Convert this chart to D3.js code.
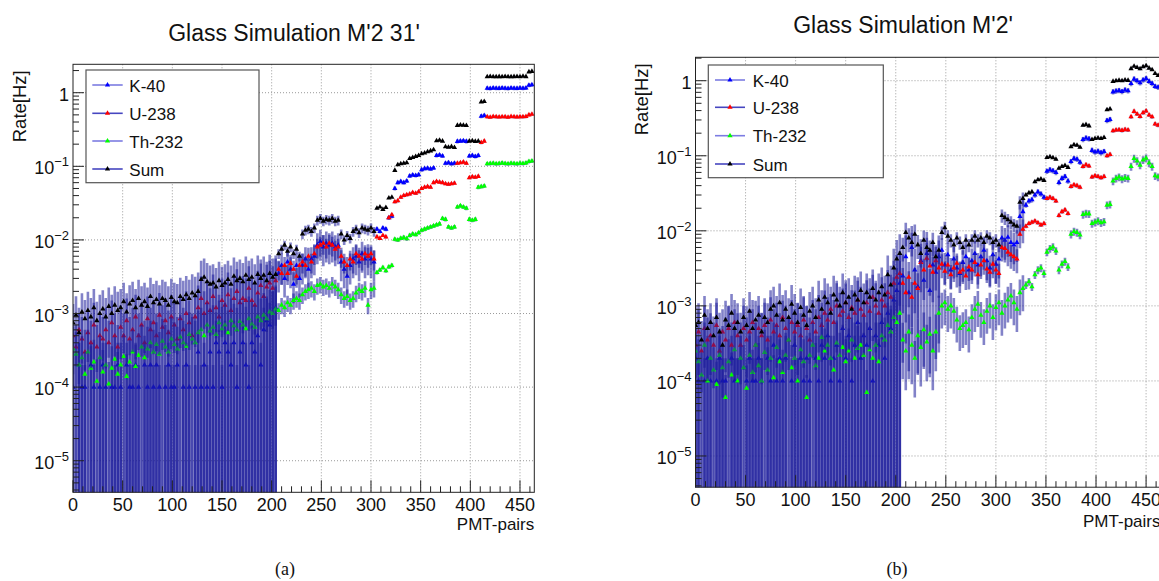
<!DOCTYPE html>
<html>
<head>
<meta charset="utf-8">
<script src="https://cdn.jsdelivr.net/npm/d3@7"></script>
<style>
  body { margin: 0; background: #fff; }
  svg { display: block; font-family: "Liberation Sans", Arial, sans-serif; }
</style>
</head>
<body>
<svg id="chart" width="1159" height="581"></svg>
<script>
// PMT pair index of every plotted point (every 3rd pair)
const pmtPairs = d3.range(0, 463, 3);
const seriesNames = ["K-40", "U-238", "Th-232", "Sum"];
const xTicks = [0, 50, 100, 150, 200, 250, 300, 350, 400, 450];

// ---- panel (a): Glass Simulation M'2 31'  (rates in mHz) ----
const k40A = [
  0.1, 0, 0.2, 0.1, 0.1, 0, 0.2, 0.1, 0, 0.1,
  0.2, 0.1, 0, 0.1, 0.1, 0.2, 0.1, 0, 0.2, 0.1,
  0.1, 0.2, 0.1, 0, 0.2, 0.1, 0.2, 0.1, 0.2, 0.1,
  0, 0.1, 0.2, 0.1, 0.1, 0.2, 0, 0.1, 0.2, 0.1,
  0, 0.1, 0.3, 0.1, 0.2, 0.1, 0.3, 0.1, 0.4, 0.3,
  0.1, 0.4, 0.3, 0.2, 0.4, 0.1, 0.3, 0.4, 0.2, 0.1,
  0.4, 0.3, 0.5, 0.2, 0.6, 0.8, 0.7, 1.0, 1.2,
  3.5, 4.5, 3.0, 5.0, 4.0, 2.5, 4.5, 3.0, 4.5, 5.5,
  4.0, 5.5, 6.0, 8.5, 9.5, 8.0, 9.0, 8.5, 9.0, 8.0,
  8.5, 5.0, 4.0, 3.2, 4.5, 5.5, 6.0, 5.0, 6.5, 5.5,
  6.0, 5.5, 5.0, 14, 13, 14.5, 14, 20, 21, 50,
  60, 62, 60, 63, 74, 76, 75, 77, 90, 93,
  94, 92, 95, 140, 142, 138, 110, 112, 108, 110,
  218, 220, 222, 218, 138, 140, 136, 140, 480, 490,
  1150, 1140, 1155, 1150, 1145, 1160, 1150, 1140, 1155, 1150,
  1145, 1160, 1150, 1155, 1260, 1280
];
const u238A = [
  0.5, 0.35, 0.6, 0.45, 0.3, 0.55, 0.4, 0.7, 0.35, 0.5,
  0.45, 0.6, 0.4, 0.75, 0.5, 0.35, 0.65, 0.5, 0.8, 0.45,
  0.6, 0.9, 0.5, 0.7, 0.4, 0.85, 0.6, 0.75, 0.5, 0.95,
  0.65, 0.8, 0.55, 0.9, 0.7, 0.45, 0.85, 0.6, 1.0, 0.75,
  0.5, 0.9, 1.2, 1.6, 1.0, 1.4, 1.1, 1.7, 1.2, 0.9,
  1.5, 1.3, 1.8, 1.1, 1.6, 2.0, 1.4, 1.6, 1.5, 2.2,
  1.5, 1.3, 1.9, 2.4, 1.7, 2.3, 2.6, 2.2, 2.8,
  4.0, 3.5, 4.5, 3.5, 4.8, 4.0, 3.2, 4.5, 5.0, 4.5,
  6.0, 5.0, 6.5, 8.0, 8.5, 9.0, 8.0, 9.0, 8.5, 7.5,
  8.0, 6.0, 5.0, 4.5, 5.5, 5.0, 6.5, 6.0, 5.5, 6.5,
  6.0, 6.5, 5.5, 11, 10.5, 11.5, 11, 20, 22, 33,
  34, 38, 40, 41, 42, 44, 43, 45, 50, 52,
  53, 52, 60, 62, 61, 60, 58, 57, 58, 59,
  110, 112, 114, 110, 70, 72, 71, 73, 210, 220,
  470, 465, 475, 470, 468, 472, 470, 465, 475, 470,
  468, 472, 470, 475, 500, 510
];
const th232A = [
  0.33, 0.28, 0.2, 0.25, 0.15, 0.3, 0.18, 0.22, 0.12, 0.25,
  0.16, 0.2, 0.11, 0.18, 0.24, 0.15, 0.2, 0.26, 0.14, 0.22,
  0.3, 0.19, 0.27, 0.35, 0.25, 0.33, 0.4, 0.3, 0.38, 0.28,
  0.42, 0.35, 0.3, 0.45, 0.38, 0.33, 0.48, 0.4, 0.36, 0.52,
  0.45, 0.4, 0.55, 0.6, 0.5, 0.7, 0.58, 0.65, 0.52, 0.75,
  0.62, 0.7, 0.55, 0.8, 0.68, 0.6, 0.78, 0.7, 0.62, 0.85,
  0.72, 0.65, 0.9, 0.8, 0.95, 0.85, 1.05, 1.0, 1.15,
  1.1, 1.3, 1.2, 1.4, 1.3, 1.5, 1.6, 1.5, 1.8, 2.0,
  2.1, 2.2, 2.0, 2.4, 2.5, 2.3, 2.4, 2.2, 2.5, 2.3,
  2.1, 1.8, 1.6, 1.7, 1.5, 1.6, 1.9, 2.1, 2.0, 2.2,
  1.3, 2.1, 2.2, 3.6, 3.9, 4.2, 3.8, 4.3, 4.5, 10.2,
  10, 10.5, 10.8, 10.4, 11.5, 12, 11.8, 12.5, 13.5, 14,
  14.5, 15, 15.5, 16, 16.5, 19.5, 19, 15, 14.5, 15,
  28, 29, 28, 27, 19, 18.5, 19, 52, 53, 54,
  108, 109, 110, 108, 109, 111, 109, 108, 110, 109,
  108, 110, 109, 111, 116, 118
];
const sumA = [
  0.75, 0.95, 0.55, 1.05, 0.85, 1.1, 0.9, 1.2, 0.8, 1.0,
  1.15, 0.9, 1.25, 1.0, 1.3, 1.1, 1.2, 1.45, 1.05, 1.35,
  1.5, 1.2, 1.6, 1.3, 1.45, 1.25, 1.7, 1.4, 1.55, 1.35,
  1.6, 1.5, 1.3, 1.65, 1.45, 1.4, 1.7, 1.55, 1.8, 1.6,
  1.9, 1.75, 2.0, 2.9, 3.1, 2.7, 2.5, 2.6, 2.3, 2.8,
  2.4, 2.6, 2.9, 2.5, 3.2, 2.8, 3.0, 2.7, 3.3, 2.9,
  3.1, 2.6, 3.4, 3.0, 3.3, 2.8, 3.5, 3.1, 3.4,
  6.5, 7.5, 8.5, 7.0, 8.0, 6.5, 7.5, 6.0, 12, 13.5,
  14, 13, 14.5, 18.5, 19.5, 18, 19, 18.5, 19.5, 18,
  18.5, 12, 10, 11.5, 10.5, 13, 14, 12.5, 14.5, 14,
  13.5, 14.5, 13, 27, 28, 26, 27.5, 37, 38, 88,
  105, 108, 110, 112, 128, 132, 136, 140, 148, 152,
  158, 162, 168, 222, 226, 220, 184, 182, 185, 180,
  360, 365, 362, 358, 220, 222, 218, 220, 750, 760,
  1650, 1660, 1650, 1645, 1655, 1650, 1660, 1650, 1645, 1655,
  1660, 1650, 1670, 1655, 1920, 1950
];

// ---- panel (b): Glass Simulation M'2'  (rates in mHz) ----
const k40B = [
  0.2, 0.1, 0, 0.1, 0.2, 0.1, 0, 0.1, 0.2, 0.1,
  0.1, 0, 0.2, 0.1, 0.1, 0.2, 0, 0.1, 0.2, 0.1,
  0.1, 0.2, 0.1, 0, 0.2, 0.1, 0.3, 0.1, 0.2, 0.1,
  0.2, 0, 0.1, 0.3, 0.1, 0.2, 0.1, 0.2, 0.1, 0,
  0.2, 0.1, 0.3, 0.2, 0.4, 0.1, 0.2, 0.3, 0.1, 0.5,
  0.2, 0.4, 0.1, 0.3, 0.6, 0.2, 0.4, 0.3, 0.5, 0.1,
  0.4, 0.3, 0.6, 0.2, 0.8, 0.5, 1.2, 1.6, 2.0,
  2.5, 4.5, 1.5, 6.0, 3.0, 1.8, 4.0, 2.2, 5.0, 1.6,
  3.5, 2.8, 4.5, 5.5, 3.5, 4.8, 3.0, 4.2, 3.2, 2.7,
  3.8, 4.5, 3.0, 4.0, 5.0, 3.5, 4.5, 5.5, 4.0, 3.2,
  4.8, 3.6, 4.2, 8.0, 7.5, 8.2, 7.0, 6.5, 7.0, 15.5,
  18, 22, 25, 26, 30, 33, 31, 28, 62, 65,
  63, 60, 44, 50, 53, 46, 84, 92, 90, 82,
  165, 172, 168, 118, 112, 115, 110, 114, 295, 305,
  710, 730, 740, 720, 750, 735, 920, 1050, 1000, 940,
  1020, 1070, 980, 920, 840, 820
];
const u238B = [
  0.3, 0.45, 0.25, 0.5, 0.35, 0.4, 0.3, 0.55, 0.25, 0.45,
  0.35, 0.5, 0.3, 0.6, 0.4, 0.3, 0.5, 0.35, 0.45, 0.6,
  0.3, 0.5, 0.4, 0.55, 0.35, 0.65, 0.45, 0.55, 0.4, 0.7,
  0.5, 0.35, 0.6, 0.45, 0.55, 0.4, 0.65, 0.5, 0.35, 0.6,
  0.45, 0.7, 0.55, 0.8, 0.65, 0.9, 0.6, 1.0, 0.75, 0.85,
  1.1, 0.7, 0.95, 0.8, 1.2, 0.9, 0.75, 1.1, 0.85, 1.3,
  1.0, 0.8, 1.2, 1.0, 1.5, 1.3, 2.0, 2.4, 2.7,
  2.0, 1.5, 2.4, 1.3, 2.0, 1.7, 3.8, 3.0, 4.3, 3.4,
  2.8, 4.0, 3.2, 3.6, 2.9, 3.5, 2.6, 3.2, 3.7, 2.8,
  3.0, 2.5, 3.3, 3.0, 3.8, 2.6, 3.5, 4.0, 3.1, 2.8,
  3.6, 3.0, 2.7, 6.0, 5.8, 5.2, 4.8, 4.5, 4.2, 9.0,
  10.5, 11.5, 12.5, 13, 13.5, 12.8, 12, 12.5, 27, 28,
  27, 25, 16, 18, 19, 17, 39, 41, 40, 38,
  72, 76, 73, 52, 54, 53, 51, 53, 100, 104,
  215, 220, 222, 218, 224, 220, 330, 390, 360, 335,
  375, 395, 350, 330, 265, 255
];
const th232B = [
  0.25, 0.18, 0.12, 0.3, 0.1, 0.2, 0.14, 0.09, 0.22, 0.15,
  0.06, 0.18, 0.12, 0.26, 0.1, 0.2, 0.15, 0.08, 0.22, 0.13,
  0.3, 0.16, 0.1, 0.24, 0.14, 0.2, 0.11, 0.28, 0.18, 0.13,
  0.22, 0.35, 0.15, 0.2, 0.1, 0.26, 0.18, 0.06, 0.22, 0.3,
  0.16, 0.2, 0.38, 0.25, 0.3, 0.2, 0.14, 0.32, 0.22, 0.28,
  0.18, 0.25, 0.35, 0.2, 0.27, 0.3, 0.22, 0.07, 0.26, 0.2,
  0.3, 0.18, 0.4, 0.35, 0.55, 0.45, 0.7, 0.6, 0.8,
  0.35, 0.25, 0.45, 0.3, 0.2, 0.4, 0.28, 0.48, 0.33, 0.42,
  0.25, 0.45, 0.8, 1.0, 1.1, 0.9, 1.0, 0.85, 0.65, 0.5,
  0.55, 0.6, 0.48, 0.7, 0.9, 1.05, 0.75, 0.6, 0.85, 1.0,
  0.7, 0.95, 1.1, 0.8, 1.0, 1.2, 1.35, 1.1, 0.9, 1.5,
  1.7, 1.9, 2.1, 1.8, 2.6, 3.0, 3.2, 2.7, 5.2, 5.8,
  6.1, 5.4, 3.0, 3.6, 3.9, 3.3, 9.0, 9.8, 9.5, 8.8,
  16.5, 17, 16.8, 12.5, 13, 13.5, 12.8, 13.2, 22, 22.5,
  46, 50, 52, 49, 51, 50, 72, 92, 85, 75,
  88, 93, 80, 72, 54, 52
];
const sumB = [
  0.55, 0.6, 0.35, 0.75, 0.5, 0.6, 0.4, 0.7, 0.45, 0.3,
  0.65, 0.55, 0.8, 0.5, 0.6, 0.45, 0.7, 0.55, 0.85, 0.5,
  0.65, 0.75, 0.45, 0.7, 0.6, 0.9, 1.0, 0.75, 1.1, 0.65,
  0.9, 0.7, 1.05, 0.8, 0.6, 0.95, 0.75, 0.55, 0.85, 1.0,
  0.7, 1.2, 0.9, 1.3, 1.1, 0.8, 1.4, 1.2, 1.0, 1.5,
  1.1, 1.3, 0.9, 1.4, 1.2, 1.6, 1.1, 1.5, 1.3, 1.7,
  1.2, 1.5, 1.8, 1.4, 2.6, 1.9, 3.2, 4.2, 5.0,
  6.0, 9.5, 8.0, 7.0, 9.0, 6.5, 5.0, 7.5, 6.0, 5.5,
  7.0, 4.5, 5.5, 9.5, 11, 8.5, 7.5, 6.5, 8.0, 7.0,
  6.0, 7.5, 6.5, 7.5, 8.5, 7.5, 8.0, 7.0, 8.5, 8.0,
  7.0, 7.5, 6.5, 16, 15, 14, 13, 12, 11.5, 24,
  27, 30, 32, 33, 45, 48, 49, 47, 95, 97,
  94, 90, 68, 72, 74, 70, 132, 140, 138, 130,
  255, 260, 250, 165, 170, 172, 170, 175, 410, 420,
  980, 1000, 1010, 1000, 1020, 1010, 1450, 1560, 1500, 1440,
  1530, 1580, 1470, 1400, 1250, 1170
];

// relative error by range of PMT pairs: [from, to, K-40, U-238, Th-232, Sum]
const relErrA = [
  [0, 205, 1.0, 1.0, 1.0, 0.8],
  [205, 306, 0.45, 0.3, 0.25, 0.15],
  [306, 465, 0.06, 0.05, 0.06, 0.03]
];
const relErrB = [
  [0, 205, 1.0, 1.0, 1.0, 0.8],
  [205, 246, 0.93, 0.6, 0.7, 0.35],
  [246, 330, 0.45, 0.35, 0.5, 0.2],
  [330, 465, 0.08, 0.06, 0.12, 0.04]
];

const markerColors = ["#0000ff", "#ff0000", "#00ff00", "#000000"];
const barColor = "#1c1c9a";

[k40A, u238A, th232A, sumA, k40B, u238B, th232B, sumB].forEach((a, i) => {
  if (a.length !== pmtPairs.length) throw new Error("array " + i + " has " + a.length);
});

const svg = d3.select("#chart");
svg.append("rect").attr("width", 1159).attr("height", 581).attr("fill", "#fff");

function relErrAt(table, u, si) {
  const row = table.find(r => u >= r[0] && u < r[1]);
  return row ? row[2 + si] : 0;
}

function drawPanel(cfg) {
  const g = svg.append("g");
  const x = d3.scaleLinear().domain([0, 464.4]).range([cfg.left, cfg.right]);
  const y = d3.scaleLog().domain([cfg.yMin, cfg.yMax]).range([cfg.bottom, cfg.top]);

  const clipId = "clip-" + cfg.id;
  g.append("clipPath").attr("id", clipId).append("rect")
    .attr("x", cfg.left).attr("y", cfg.top)
    .attr("width", cfg.right - cfg.left).attr("height", cfg.bottom - cfg.top);

  // grid
  const grid = g.append("g").attr("stroke", "#9a9a9a").attr("stroke-dasharray", "1,2").attr("stroke-width", 1);
  grid.selectAll(".gx").data(xTicks.filter(t => t > 0)).join("line")
    .attr("x1", d => x(d)).attr("x2", d => x(d))
    .attr("y1", cfg.top).attr("y2", cfg.bottom);
  const decades = [1e-5, 1e-4, 1e-3, 1e-2, 1e-1, 1];
  grid.selectAll(".gy").data(decades).join("line")
    .attr("x1", cfg.left).attr("x2", cfg.right)
    .attr("y1", d => y(d)).attr("y2", d => y(d));

  // graphs: error bars then markers, in legend order
  const plot = g.append("g").attr("clip-path", `url(#${clipId})`);
  const tri = d3.symbol(d3.symbolTriangle, 12)();
  cfg.series.forEach((vals, si) => {
    const pts = pmtPairs.map((u, i) => ({ u, v: vals[i] * 1e-3, rel: relErrAt(cfg.relErr, u, si) }))
      .filter(p => p.v > 0);
    plot.append("g").attr("stroke", barColor).attr("stroke-opacity", 0.55).attr("stroke-width", 2.6)
      .selectAll("line").data(pts).join("line")
      .attr("x1", d => x(d.u)).attr("x2", d => x(d.u))
      .attr("y1", d => y(d.v * (1 + d.rel)))
      .attr("y2", d => d.v * (1 - d.rel) > cfg.yMin ? y(d.v * (1 - d.rel)) : cfg.bottom + 2);
    plot.append("g").attr("fill", markerColors[si])
      .selectAll("path").data(pts).join("path")
      .attr("d", tri)
      .attr("transform", d => `translate(${x(d.u)},${y(d.v)})`);
  });

  // frame
  g.append("rect")
    .attr("x", cfg.left).attr("y", cfg.top)
    .attr("width", cfg.right - cfg.left).attr("height", cfg.bottom - cfg.top)
    .attr("fill", "none").attr("stroke", "#222").attr("stroke-width", 1);

  // x ticks (inside, major every 50, minor every 10)
  const xt = g.append("g").attr("stroke", "#222").attr("stroke-width", 1);
  xt.selectAll("line").data(d3.range(0, 461, 10)).join("line")
    .attr("x1", d => x(d)).attr("x2", d => x(d))
    .attr("y1", cfg.bottom).attr("y2", d => cfg.bottom - (d % 50 === 0 ? 12 : 6));
  g.append("g").selectAll("text").data(xTicks).join("text")
    .attr("x", d => x(d)).attr("y", cfg.xLabelY)
    .attr("text-anchor", "middle").attr("font-size", 18).attr("fill", "#111")
    .text(d => d);

  // y ticks on log axis
  const yTickVals = [];
  for (let k = -6; k <= 0; k++) {
    for (let m = 1; m <= 9; m++) {
      const v = m * Math.pow(10, k);
      if (v >= cfg.yMin && v <= cfg.yMax) yTickVals.push({ v, major: m === 1 });
    }
  }
  const yt = g.append("g").attr("stroke", "#222").attr("stroke-width", 1);
  yt.selectAll("line").data(yTickVals).join("line")
    .attr("x1", cfg.left).attr("x2", d => cfg.left + (d.major ? 11 : 6))
    .attr("y1", d => y(d.v)).attr("y2", d => y(d.v));
  const yl = g.append("g").attr("font-size", 18).attr("fill", "#111").attr("text-anchor", "end");
  decades.forEach(v => {
    const exp = Math.round(Math.log10(v));
    const t = yl.append("text").attr("x", cfg.left - 4).attr("y", y(v) + 8);
    if (exp === 0) {
      t.text("1");
    } else {
      t.append("tspan").text("10");
      t.append("tspan").attr("dy", -8).attr("font-size", 13).text("\u2212" + Math.abs(exp));
    }
  });

  // titles
  g.append("text").attr("x", cfg.titleX).attr("y", cfg.titleY)
    .attr("text-anchor", "middle").attr("font-size", 23).attr("fill", "#111")
    .text(cfg.title);
  g.append("text")
    .attr("transform", `translate(${cfg.yTitleX},${cfg.top + 6}) rotate(-90)`)
    .attr("text-anchor", "end").attr("font-size", 18.5).attr("fill", "#111")
    .text("Rate[Hz]");
  g.append("text").attr("x", cfg.right).attr("y", cfg.xTitleY)
    .attr("text-anchor", "end").attr("font-size", 17).attr("fill", "#111")
    .text("PMT-pairs");
  g.append("text").attr("x", cfg.captionX).attr("y", 575)
    .attr("text-anchor", "middle").attr("font-size", 18)
    .attr("font-family", "'Liberation Serif', 'Times New Roman', serif").attr("fill", "#111")
    .text(cfg.caption);

  // legend
  const lg = cfg.legend;
  const leg = g.append("g");
  leg.append("rect").attr("x", lg.x0).attr("y", lg.y0)
    .attr("width", lg.x1 - lg.x0).attr("height", lg.y1 - lg.y0)
    .attr("fill", "#fff").attr("stroke", "#555").attr("stroke-width", 1.2);
  seriesNames.forEach((name, i) => {
    const ry = lg.rows[i];
    leg.append("line").attr("x1", lg.lineX0).attr("x2", lg.lineX1)
      .attr("y1", ry).attr("y2", ry)
      .attr("stroke", i % 2 ? "#4646c0" : "#7c7ce2").attr("stroke-width", 1.6);
    leg.append("path").attr("d", tri)
      .attr("transform", `translate(${(lg.lineX0 + lg.lineX1) / 2},${ry})`)
      .attr("fill", markerColors[i]);
    leg.append("text").attr("x", lg.textX).attr("y", ry + 6.5)
      .attr("font-size", 17).attr("fill", "#111").text(name);
  });
}

drawPanel({
  id: "a", title: "Glass Simulation M'2 31'", caption: "(a)",
  left: 73, right: 534.3, top: 64.3, bottom: 492.3,
  yMin: Math.pow(10, -5.429), yMax: Math.pow(10, 0.386),
  series: [k40A, u238A, th232A, sumA], relErr: relErrA,
  titleX: 294, titleY: 41, yTitleX: 26, xLabelY: 511, xTitleY: 530, captionX: 285,
  legend: { x0: 86, y0: 70, x1: 259, y1: 182.7, rows: [85, 113.3, 141, 169],
            lineX0: 92.3, lineX1: 122.7, textX: 129.3 }
});

drawPanel({
  id: "b", title: "Glass Simulation M'2'", caption: "(b)",
  left: 695.5, right: 1160.5, top: 57.3, bottom: 487.2,
  yMin: Math.pow(10, -5.416), yMax: Math.pow(10, 0.312),
  series: [k40B, u238B, th232B, sumB], relErr: relErrB,
  titleX: 903, titleY: 33, yTitleX: 648, xLabelY: 506, xTitleY: 527, captionX: 897,
  legend: { x0: 708.3, y0: 65, x1: 883.3, y1: 177.7, rows: [80, 107.3, 135.7, 164],
            lineX0: 715, lineX1: 745, textX: 752.7 }
});
</script>
</body>
</html>
